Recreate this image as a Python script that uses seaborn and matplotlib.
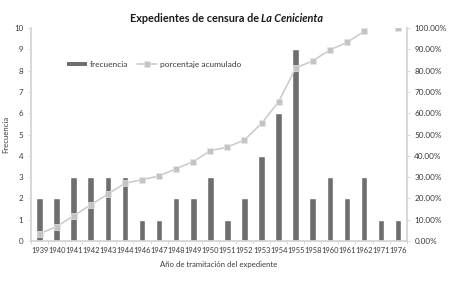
import matplotlib
matplotlib.use("Agg")
import matplotlib.pyplot as plt
import seaborn as sns
import pandas as pd
import numpy as np
from matplotlib.ticker import FuncFormatter, MultipleLocator
from matplotlib.lines import Line2D
from matplotlib.patches import Patch
from matplotlib.offsetbox import TextArea, HPacker, AnchoredOffsetbox

years = ["1939", "1940", "1941", "1942", "1943", "1944", "1946", "1947", "1948", "1949", "1950",
         "1951", "1952", "1953", "1954", "1955", "1958", "1960", "1961", "1962", "1971", "1976"]
frecuencia = [2, 2, 3, 3, 3, 3, 1, 1, 2, 2, 3, 1, 2, 4, 6, 9, 2, 3, 2, 3, 1, 1]
porcentaje = [3.39, 6.78, 11.86, 16.95, 22.03, 27.12, 28.81, 30.51, 33.90, 37.29, 42.37,
              44.07, 47.46, 55.2, 65.4, 81.2, 84.6, 89.7, 93.2, 98.4, np.nan, 100.0]

sns.set_theme(style="white")
plt.rcParams["font.family"] = ["Lato", "DejaVu Sans"]

BAR = "#6e6e6e"
LINE = "#c9c9c9"
AX = "#d4d4d4"
TXT = "#3a3a3a"

df = pd.DataFrame({"year": years, "freq": frecuencia, "pct": porcentaje})
df["pos"] = np.arange(len(df))
df["seg"] = np.cumsum(df["pct"].isna().astype(int))
dfl = df.dropna(subset=["pct"])

fig = plt.figure(figsize=(4.53, 2.81), dpi=100)
ax = fig.add_axes([31 / 453, 1 - 241 / 281, 375.7 / 453, 213 / 281])

sns.barplot(data=df, x="year", y="freq", color=BAR, width=0.39, saturation=1, ax=ax)
ax.set_xlim(-0.5, len(years) - 0.5)
ax.set_ylim(0, 10)
ax.yaxis.set_major_locator(MultipleLocator(1))

ax2 = ax.twinx()
sns.lineplot(data=dfl, x="pos", y="pct", units="seg", estimator=None, color=LINE, lw=1.1,
             marker="s", markersize=4.6, markerfacecolor="#c4c4c4", markeredgecolor="#e6e6e6",
             markeredgewidth=0.5, ax=ax2, legend=False)
ax2.set_ylim(0, 100)
ax2.set_xlim(-0.5, len(years) - 0.5)
ax2.yaxis.set_major_locator(MultipleLocator(10))
ax2.yaxis.set_major_formatter(FuncFormatter(lambda v, p: f"{v:.2f}%"))

for a in (ax, ax2):
    for s in a.spines.values():
        s.set_visible(False)
ax.spines["left"].set_visible(True)
ax.spines["left"].set_color(AX)
ax.spines["bottom"].set_visible(True)
ax.spines["bottom"].set_color(AX)
ax2.spines["right"].set_visible(True)
ax2.spines["right"].set_color(AX)

ax.tick_params(axis="y", labelsize=5.8, colors=TXT, length=2.5, width=0.6, color=AX, pad=3, left=True)
ax.tick_params(axis="x", labelsize=5.4, colors=TXT, length=0, pad=4)
ax2.tick_params(axis="y", labelsize=5.9, colors=TXT, length=2.5, width=0.6, color=AX, pad=3, right=True)
ax2.set_xlabel("")
ax2.set_ylabel("")

ax.set_xticks(np.arange(-0.5, len(years), 1), minor=True)
ax.tick_params(axis="x", which="minor", length=2.5, width=0.6, color=AX, bottom=True)

ax.set_xlabel("Año de tramitación del expediente", fontsize=5.6, color=TXT, labelpad=5)
ax.set_ylabel("Frecuencia", fontsize=5.6, color=TXT)
ax.yaxis.set_label_coords(-55 / 375.7 * 0.4, 0.5)
ax.yaxis.label.set_position((0, 0.5))
ax.yaxis.set_label_coords(-(31 - 9) / 375.7, 0.5)

ta1 = TextArea("Expedientes de censura de ", textprops=dict(fontsize=7.8, fontweight="bold", color="#1a1a1a", family=["Lato", "DejaVu Sans"]))
ta2 = TextArea("La Cenicienta", textprops=dict(fontsize=7.8, fontweight="bold", fontstyle="italic", color="#1a1a1a", family=["Lato", "DejaVu Sans"]))
box = HPacker(children=[ta1, ta2], align="baseline", pad=0, sep=0)
anch = AnchoredOffsetbox(loc="center", child=box, pad=0, frameon=False,
                         bbox_to_anchor=(226.5 / 453, 1 - 19 / 281), bbox_transform=fig.transFigure, borderpad=0)
fig.add_artist(anch)

handles = [Patch(facecolor=BAR, edgecolor="none"),
           Line2D([0], [0], color=LINE, lw=1.1, marker="s", markersize=4.6,
                  markerfacecolor="#c4c4c4", markeredgecolor="#e6e6e6", markeredgewidth=0.5)]
leg = ax.legend(handles, ["frecuencia", "porcentaje acumulado"], loc="center left",
                bbox_to_anchor=(0.075, 0.83), ncol=2, frameon=False, fontsize=6.0,
                handlelength=2.4, handleheight=0.45, columnspacing=1.0, handletextpad=0.4,
                labelcolor=TXT)

fig.savefig("out.png", dpi=100, facecolor="white")
